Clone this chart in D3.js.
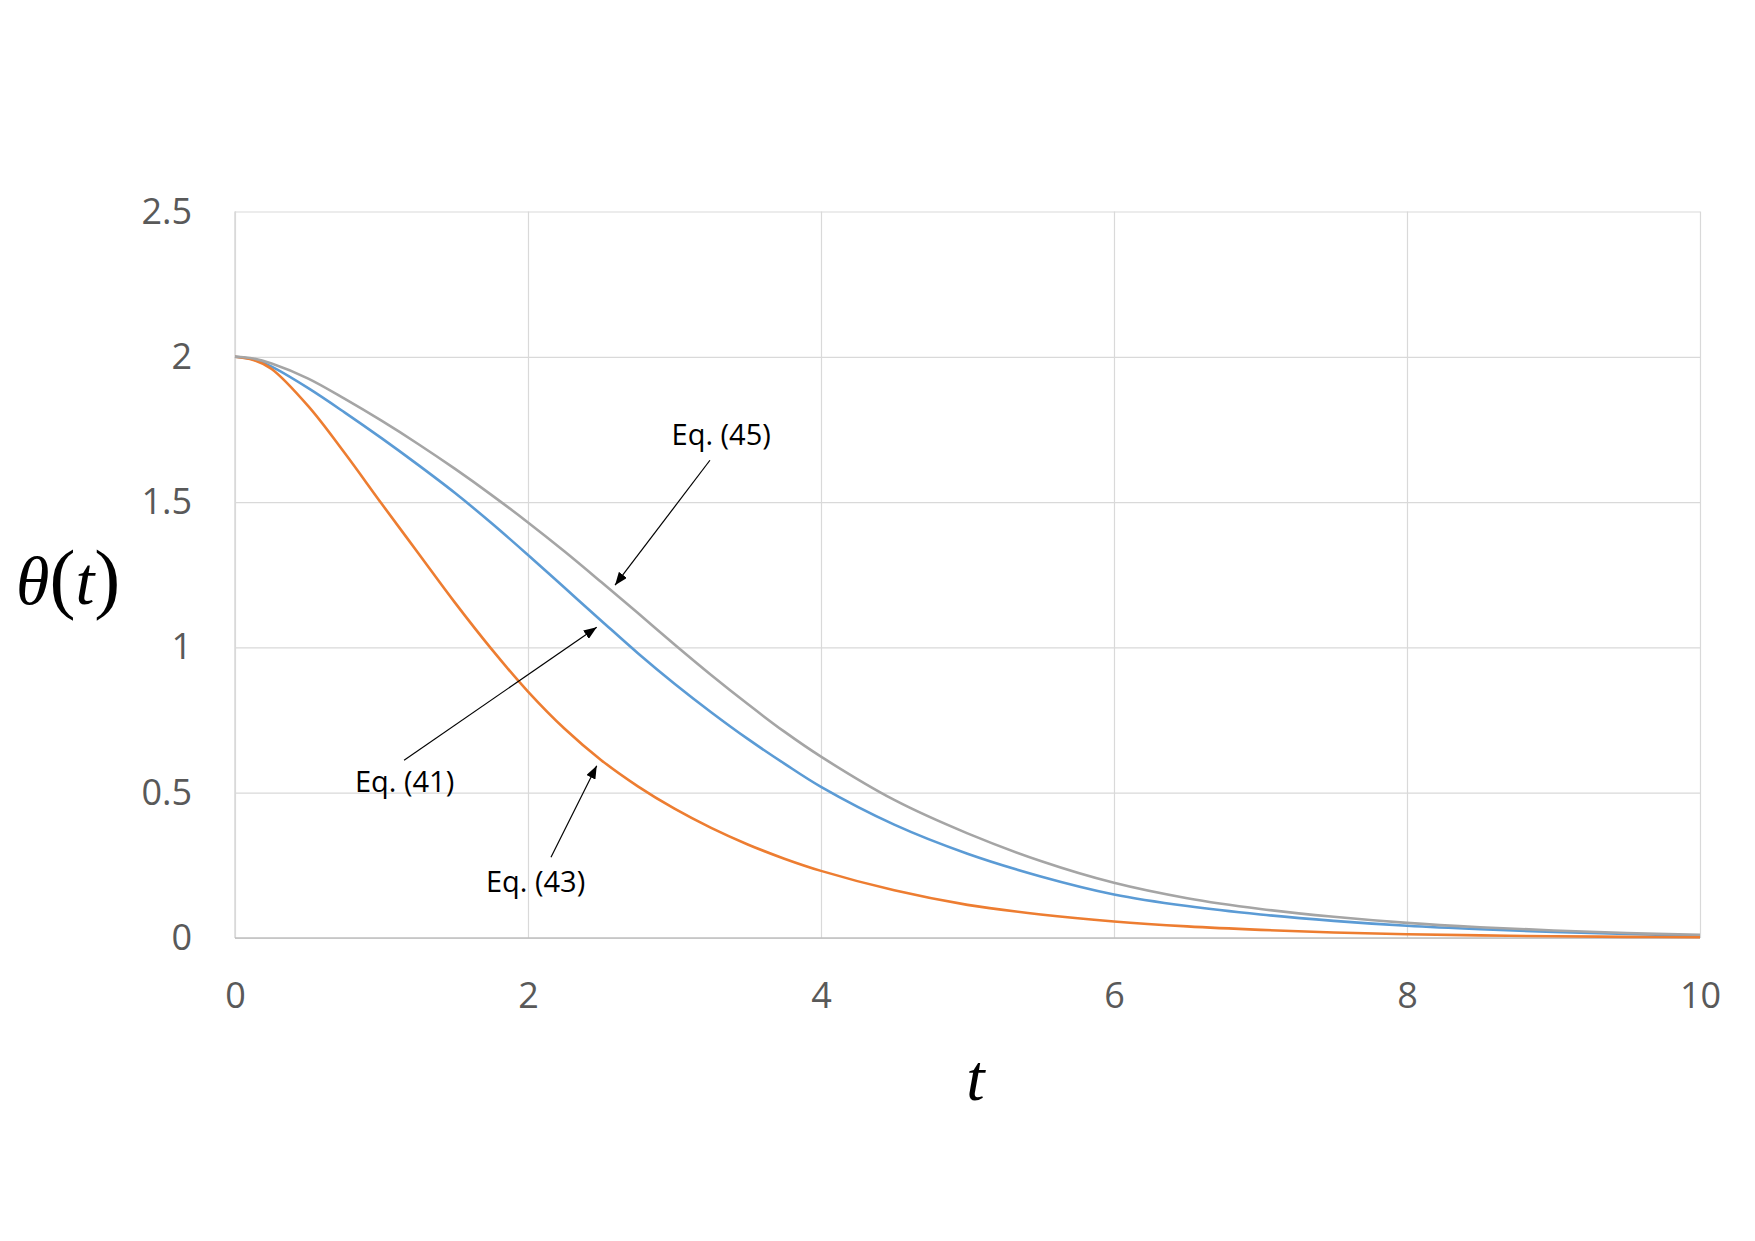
<!DOCTYPE html>
<html>
<head>
<meta charset="utf-8">
<script src="https://cdn.jsdelivr.net/npm/d3@7"></script>
<style>
  html, body { margin: 0; padding: 0; background: #ffffff; }
  svg { display: block; }
</style>
</head>
<body>
<svg id="chart" width="1755" height="1241"></svg>
<script>
// ---------------- data ----------------
const tValues = [0, 0.125, 0.25, 0.5, 0.75, 1, 1.25, 1.5, 1.75, 2, 2.25, 2.5, 2.75, 3, 3.25, 3.5, 3.75, 4,
                 4.5, 5, 5.5, 6, 6.5, 7, 7.5, 8, 8.5, 9, 9.5, 10];
const eq41 = [2.0, 1.991, 1.966, 1.892, 1.808, 1.72, 1.628, 1.532, 1.428, 1.318, 1.205, 1.092, 0.98, 0.875, 0.777, 0.685, 0.60, 0.52,
              0.39, 0.29, 0.212, 0.15, 0.11, 0.081, 0.059, 0.042, 0.030, 0.021, 0.014, 0.008];
const eq43 = [2.0, 1.989, 1.958, 1.83, 1.668, 1.495, 1.325, 1.155, 0.995, 0.848, 0.72, 0.612, 0.522, 0.445, 0.379, 0.322, 0.273, 0.231,
              0.164, 0.114, 0.081, 0.057, 0.04, 0.028, 0.019, 0.013, 0.009, 0.006, 0.004, 0.003];
const eq45 = [2.0, 1.994, 1.977, 1.925, 1.855, 1.78, 1.70, 1.615, 1.525, 1.43, 1.33, 1.225, 1.118, 1.01, 0.905, 0.805, 0.71, 0.624,
              0.475, 0.36, 0.265, 0.19, 0.137, 0.10, 0.073, 0.052, 0.037, 0.026, 0.017, 0.011];
const seriesNames = ["Eq. (41)", "Eq. (43)", "Eq. (45)"];
const xTickValues = [0, 2, 4, 6, 8, 10];
const xTickLabels = ["0", "2", "4", "6", "8", "10"];
const yTickValues = [0, 0.5, 1, 1.5, 2, 2.5];
const yTickLabels = ["0", "0.5", "1", "1.5", "2", "2.5"];
// annotation anchors in data coordinates: label position, arrow start, arrow tip
const annLabels = ["Eq. (45)", "Eq. (41)", "Eq. (43)"];
const annText = [[2.98, 1.696], [0.819, 0.503], [1.713, 0.159]];
const annFrom = [[3.242, 1.644], [1.154, 0.612], [2.157, 0.278]];
const annTo = [[2.594, 1.214], [2.469, 1.069], [2.469, 0.593]];

// ---------------- layout ----------------
const svg = d3.select("#chart");
const W = 1755, H = 1241;
const plotLeft = 235, plotRight = 1700, plotTop = 211.5, plotBottom = 938;
const x = d3.scaleLinear().domain([0, 10]).range([plotLeft, plotRight]);
const y = d3.scaleLinear().domain([0, 2.5]).range([plotBottom, plotTop]);
const labelFont = "'Open Sans', 'Noto Sans', 'DejaVu Sans', sans-serif";
const gridColor = "#d9d9d9";
const textColor = "#595959";

svg.append("rect").attr("width", W).attr("height", H).attr("fill", "#fff");

// horizontal gridlines + y labels
const yAxis = d3.axisLeft(y)
  .tickValues(yTickValues)
  .tickSize(-(plotRight - plotLeft))
  .tickPadding(43)
  .tickFormat((d, i) => yTickLabels[i]);
const gy = svg.append("g").attr("transform", `translate(${plotLeft},0)`).call(yAxis);
gy.select(".domain").remove();
gy.selectAll(".tick line").attr("stroke", gridColor).attr("stroke-width", 1.2);
gy.selectAll(".tick text")
  .attr("fill", textColor)
  .style("font-family", labelFont)
  .style("font-size", "36px");

// vertical gridlines + x labels
const xAxis = d3.axisBottom(x)
  .tickValues(xTickValues)
  .tickSize(-(plotBottom - plotTop))
  .tickPadding(0)
  .tickFormat((d, i) => xTickLabels[i]);
const gx = svg.append("g").attr("transform", `translate(0,${plotBottom})`).call(xAxis);
gx.select(".domain").remove();
gx.selectAll(".tick line").attr("stroke", gridColor).attr("stroke-width", 1.2);
gx.selectAll(".tick text")
  .attr("fill", textColor)
  .attr("y", 70)
  .attr("dy", 0)
  .style("font-family", labelFont)
  .style("font-size", "36px");

// axis lines
svg.append("line").attr("x1", plotLeft).attr("x2", plotLeft).attr("y1", plotTop).attr("y2", plotBottom)
  .attr("stroke", gridColor).attr("stroke-width", 1.5);
svg.append("line").attr("x1", plotLeft).attr("x2", plotRight).attr("y1", plotBottom).attr("y2", plotBottom)
  .attr("stroke", "#bfbfbf").attr("stroke-width", 1.5);

// series
const series = [
  { name: seriesNames[0], values: eq41, color: "#5b9bd5" },
  { name: seriesNames[1], values: eq43, color: "#ed7d31" },
  { name: seriesNames[2], values: eq45, color: "#a5a5a5" }
];
const line = d3.line()
  .x((d, i) => x(tValues[i]))
  .y(d => y(d))
  .curve(d3.curveCatmullRom.alpha(0.5));
svg.append("g").selectAll("path").data(series).join("path")
  .attr("d", s => line(s.values))
  .attr("fill", "none")
  .attr("stroke", s => s.color)
  .attr("stroke-width", 2.6)
  .attr("stroke-linejoin", "round");

// arrow marker
svg.append("defs").append("marker")
  .attr("id", "arrow")
  .attr("viewBox", "0 0 13 10")
  .attr("refX", 13).attr("refY", 5)
  .attr("markerWidth", 13).attr("markerHeight", 10)
  .attr("markerUnits", "userSpaceOnUse")
  .attr("orient", "auto")
  .append("path").attr("d", "M0,0 L13,5 L0,10 Z").attr("fill", "#000");

// annotations
const ann = svg.append("g");
annLabels.forEach((lab, i) => {
  ann.append("line")
    .attr("x1", x(annFrom[i][0])).attr("y1", y(annFrom[i][1]))
    .attr("x2", x(annTo[i][0])).attr("y2", y(annTo[i][1]))
    .attr("stroke", "#000").attr("stroke-width", 1.2)
    .attr("marker-end", "url(#arrow)");
  ann.append("text")
    .attr("x", x(annText[i][0])).attr("y", y(annText[i][1]))
    .attr("fill", "#000")
    .style("font-family", labelFont)
    .style("font-size", "29px")
    .text(lab);
});

// axis titles
const serif = "'Liberation Serif', 'DejaVu Serif', serif";
svg.append("text")
  .attr("x", (plotLeft + plotRight) / 2 + 8).attr("y", 1100)
  .attr("text-anchor", "middle")
  .style("font-family", serif).style("font-style", "italic").style("font-size", "66px")
  .attr("fill", "#000")
  .text("t");

const yt = svg.append("text")
  .attr("x", 16).attr("y", 604)
  .style("font-family", serif).style("font-size", "68px")
  .attr("fill", "#000");
yt.append("tspan").style("font-style", "italic").text("θ");
yt.append("tspan").style("font-size", "78px").text("(");
yt.append("tspan").style("font-style", "italic").text("t");
yt.append("tspan").style("font-size", "78px").text(")");
</script>
</body>
</html>
